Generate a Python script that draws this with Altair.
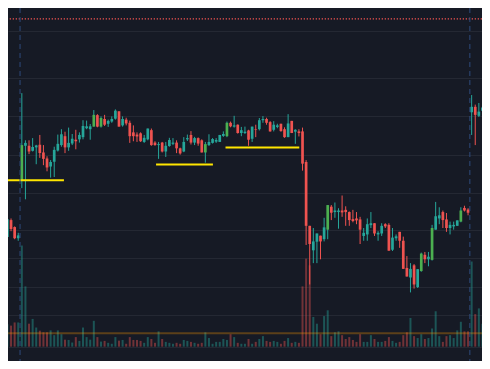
import altair as alt
import pandas as pd

# ---- data (bar index, prices, volume) ----
bar_index = list(range(-4, 129))

opens = [
    14.07, 15.83, 15.10, 13.93,
    20.00, 23.60, 23.60, 23.07, 23.43, 23.70, 22.90, 22.27, 21.43, 21.93,
    23.10, 23.67, 24.60, 23.43, 23.83, 24.23, 24.27, 24.50, 25.43, 25.33,
    25.60, 26.80, 25.60, 26.40, 25.90, 26.13, 26.43, 27.20, 25.73, 26.33,
    26.00, 25.00, 24.77, 24.90, 24.00, 24.27, 25.23, 23.93, 23.67, 23.93,
    23.00, 23.57, 23.80, 23.93, 23.33, 23.00, 24.27, 24.73, 23.93, 24.40,
    24.17, 22.90, 23.67, 23.90, 24.03, 24.00, 24.63, 24.60, 26.00, 25.60,
    25.80, 24.93, 24.93, 25.20, 24.33, 25.33, 25.33, 26.27, 26.40, 26.07,
    25.27, 25.57, 25.90, 25.33, 24.50, 26.20, 25.07, 25.10, 25.10, 21.90,
    15.23, 12.67, 13.57, 14.20, 13.83, 14.83, 17.23, 16.67, 16.67, 16.83,
    16.90, 16.67, 15.93, 16.00, 15.90, 14.17, 14.33, 15.30, 15.50, 14.33,
    14.43, 15.40, 15.33, 12.73, 13.93, 14.60, 13.67, 10.83, 9.83, 11.10,
    8.83, 10.50, 12.20, 11.73, 11.67, 14.83, 16.00, 16.67, 15.90, 15.00,
    15.17, 15.23, 15.67, 17.10, 16.93, 27.10, 27.67, 26.73, 27.27,
]
closes = [
    15.93, 14.90, 13.93, 14.23,
    23.67, 23.90, 23.00, 23.47, 23.63, 22.83, 22.23, 21.33, 21.90, 23.17,
    23.80, 24.80, 23.43, 23.90, 24.33, 24.07, 24.73, 25.67, 25.63, 25.63,
    26.83, 25.60, 26.50, 25.80, 26.20, 26.40, 27.27, 25.60, 26.40, 25.93,
    24.60, 24.60, 24.57, 24.07, 24.43, 25.40, 23.67, 23.67, 23.77, 23.00,
    23.60, 24.20, 23.93, 23.33, 22.80, 24.00, 24.40, 23.93, 24.40, 23.83,
    22.90, 23.77, 24.00, 24.30, 24.20, 24.73, 24.83, 26.00, 25.63, 25.73,
    24.93, 25.23, 25.07, 24.23, 25.60, 25.27, 26.27, 26.40, 26.00, 25.10,
    25.80, 25.73, 25.13, 24.50, 25.93, 24.93, 25.27, 24.93, 21.73, 15.23,
    13.33, 13.60, 14.43, 13.60, 15.07, 17.40, 16.60, 16.83, 16.83, 16.63,
    16.67, 15.83, 15.73, 15.80, 14.83, 14.50, 15.40, 15.50, 14.43, 14.50,
    15.23, 15.17, 12.63, 14.00, 14.13, 13.67, 10.73, 9.93, 10.73, 9.10,
    10.70, 12.33, 11.73, 12.00, 15.00, 16.23, 16.33, 15.83, 15.00, 15.33,
    15.33, 15.80, 16.83, 16.83, 16.60, 27.67, 26.83, 27.17, 27.60,
]
highs = [
    16.10, 16.00, 15.17, 14.50,
    29.10, 24.17, 24.17, 24.40, 23.70, 24.73, 23.67, 22.50, 22.10, 23.50,
    24.77, 25.33, 25.07, 25.50, 24.83, 25.27, 25.00, 26.27, 26.23, 25.87,
    27.33, 26.90, 26.67, 26.83, 26.33, 26.67, 27.40, 27.20, 26.67, 26.53,
    26.23, 25.73, 25.00, 25.00, 24.73, 25.40, 25.40, 24.07, 24.00, 24.00,
    24.00, 24.43, 24.40, 24.17, 23.40, 24.50, 24.77, 25.13, 24.53, 24.47,
    24.27, 24.00, 24.80, 24.40, 24.40, 24.73, 25.10, 26.13, 26.13, 26.73,
    25.83, 25.57, 25.60, 25.27, 25.60, 25.80, 26.50, 26.70, 26.53, 26.17,
    26.17, 25.90, 25.90, 25.53, 26.90, 26.20, 25.33, 25.33, 25.50, 22.10,
    15.23, 15.00, 14.43, 14.20, 16.07, 17.40, 17.40, 17.67, 17.07, 18.40,
    17.27, 16.73, 16.90, 16.67, 16.17, 15.00, 16.00, 16.67, 15.50, 14.67,
    15.50, 15.50, 15.50, 15.00, 14.33, 14.60, 14.10, 12.07, 11.33, 11.23,
    10.70, 12.43, 12.50, 12.50, 15.33, 17.73, 17.17, 16.83, 16.57, 15.67,
    15.67, 15.80, 17.17, 17.33, 17.07, 28.90, 27.90, 28.07, 27.70,
]
lows = [
    13.90, 14.67, 13.83, 13.67,
    19.17, 18.00, 22.73, 23.00, 21.67, 22.33, 21.57, 20.93, 20.27, 20.33,
    23.00, 23.50, 22.83, 23.07, 23.67, 23.23, 23.93, 24.27, 25.33, 24.23,
    25.60, 25.53, 25.50, 25.67, 25.57, 26.00, 26.33, 25.60, 25.60, 25.73,
    23.90, 24.07, 24.00, 24.00, 23.90, 24.17, 23.60, 23.60, 22.23, 22.90,
    22.43, 23.50, 23.67, 22.83, 22.67, 22.93, 24.10, 23.73, 23.67, 23.60,
    22.90, 21.83, 23.57, 23.83, 23.90, 24.00, 24.53, 24.50, 25.53, 25.50,
    24.87, 24.60, 24.83, 23.60, 24.00, 24.50, 25.20, 26.00, 25.80, 25.07,
    25.10, 25.43, 25.07, 24.43, 24.50, 24.93, 23.80, 24.57, 21.00, 13.23,
    9.10, 11.33, 11.33, 11.73, 13.60, 13.83, 15.83, 16.07, 14.93, 16.17,
    15.23, 15.23, 15.60, 15.40, 13.33, 13.67, 13.67, 15.00, 14.17, 13.67,
    14.17, 15.00, 12.63, 12.60, 13.67, 12.93, 10.73, 9.93, 8.27, 8.67,
    8.73, 10.43, 11.33, 11.00, 11.60, 14.83, 15.40, 15.00, 14.60, 14.33,
    14.83, 15.23, 15.60, 16.73, 16.33, 24.73, 23.67, 26.60, 27.20,
]
volumes = [
    233, 220, 253, 253,
    1057, 630, 240, 290, 200, 167, 150, 150, 170, 120,
    170, 130, 73, 70, 43, 100, 60, 200, 100, 73,
    270, 100, 53, 60, 40, 30, 100, 63, 70, 30,
    100, 70, 70, 60, 40, 100, 80, 40, 160, 80,
    50, 40, 30, 40, 30, 70, 60, 50, 40, 30,
    40, 150, 90, 30, 50, 50, 80, 70, 130, 100,
    40, 30, 30, 80, 30, 50, 80, 110, 60, 50,
    60, 50, 30, 60, 90, 40, 50, 40, 630, 920,
    850, 310, 240, 130, 320, 380, 110, 150, 160, 120,
    80, 100, 70, 50, 130, 50, 50, 120, 80, 50,
    50, 60, 100, 60, 40, 50, 120, 150, 300, 110,
    90, 130, 80, 90, 190, 370, 110, 50, 110, 120,
    90, 170, 260, 160, 160, 890, 340, 400, 240,
]
green_bodies = [0, 20, 22, 51, 57, 85, 111, 114, 122]

grid_prices = [35.57, 30.70, 26.67, 22.67, 18.67, 14.83, 11.83, 8.83, 5.90, 2.60]
grid_bars = [0, 25, 55, 95, 125]
session_breaks = [-0.5, 124.5]
level_prices = [20.0, 21.65, 23.42]
level_start = [-4.0, 37.3, 56.6]
level_end = [11.7, 53.1, 77.1]
last_price = 36.87
avg_volume = 140

assert len(bar_index) == len(opens) == len(closes) == len(highs) == len(lows) == len(volumes)

# ---- tables ----
rows = []
for i, o, c, h, l, v in zip(bar_index, opens, closes, highs, lows, volumes):
    d = "up" if c >= o else "down"
    rows.append({"i": i, "o": o, "c": c, "h": h, "l": l, "v": v, "dir": d,
                 "kind": "hl" if i in green_bodies else d})
df = pd.DataFrame(rows)
levels = pd.DataFrame({"p": level_prices, "s": level_start, "e": level_end})

BG = "#161a25"
GRID = "#242833"
W, H = 474, 353

xsc = alt.Scale(domain=[-3.844, 127.876], nice=False, zero=False, padding=0)
psc = alt.Scale(domain=[1.1, 38.0], nice=False, zero=False, padding=0)
vsc = alt.Scale(domain=[-150, 3540], nice=False, zero=False, padding=0)
csc = alt.Scale(domain=["up", "down", "hl"], range=["#26a69a", "#ef5350", "#4caf50"])

x_plain = alt.X("i:Q", scale=xsc, axis=None)

vol = alt.Chart(df).mark_bar(size=2.0, opacity=0.42, clip=True).encode(
    x=x_plain,
    y=alt.Y("v:Q", scale=vsc, axis=None),
    y2=alt.datum(0),
    color=alt.Color("dir:N", scale=csc, legend=None),
)

avg = alt.Chart(pd.DataFrame({"v": [avg_volume]})).mark_rule(
    color="#ff9800", opacity=0.3, strokeWidth=2
).encode(y=alt.Y("v:Q", scale=vsc, axis=None))

wicks = alt.Chart(df).mark_rule(strokeWidth=1, clip=True).encode(
    x=alt.X("i:Q", scale=xsc,
            axis=alt.Axis(values=grid_bars, grid=True, labels=False, ticks=False,
                          domain=False, title=None, gridColor=GRID, gridWidth=1)),
    y=alt.Y("l:Q", scale=psc,
            axis=alt.Axis(values=grid_prices, grid=True, labels=False, ticks=False,
                          domain=False, title=None, gridColor=GRID, gridWidth=1)),
    y2="h:Q",
    color=alt.Color("dir:N", scale=csc, legend=None),
)

bodies = alt.Chart(df).mark_bar(size=2.7, clip=True).encode(
    x=x_plain,
    y=alt.Y("o:Q", scale=psc, axis=None),
    y2="c:Q",
    color=alt.Color("kind:N", scale=csc, legend=None),
)

yellow = alt.Chart(levels).mark_rule(color="#ffe600", strokeWidth=2, clip=True).encode(
    x=alt.X("s:Q", scale=xsc, axis=None),
    x2="e:Q",
    y=alt.Y("p:Q", scale=psc, axis=None),
)

lastline = alt.Chart(pd.DataFrame({"p": [last_price]})).mark_rule(
    color="#ef5350", strokeWidth=1.3, strokeDash=[1.3, 1.7]
).encode(y=alt.Y("p:Q", scale=psc, axis=None))

breaks = alt.Chart(pd.DataFrame({"i": session_breaks})).mark_rule(
    color="#2e4a7c", strokeWidth=1, strokeDash=[5, 4]
).encode(x=x_plain)

chart = alt.layer(vol, avg, wicks, bodies, yellow, lastline, breaks).resolve_scale(
    y="independent"
).properties(
    width=W, height=H, background=BG, padding=0,
    autosize=alt.AutoSizeParams(type="none"),
).configure_view(stroke=None, fill=BG)

chart.save("out.html", embed_options={"renderer": "svg", "actions": False})
